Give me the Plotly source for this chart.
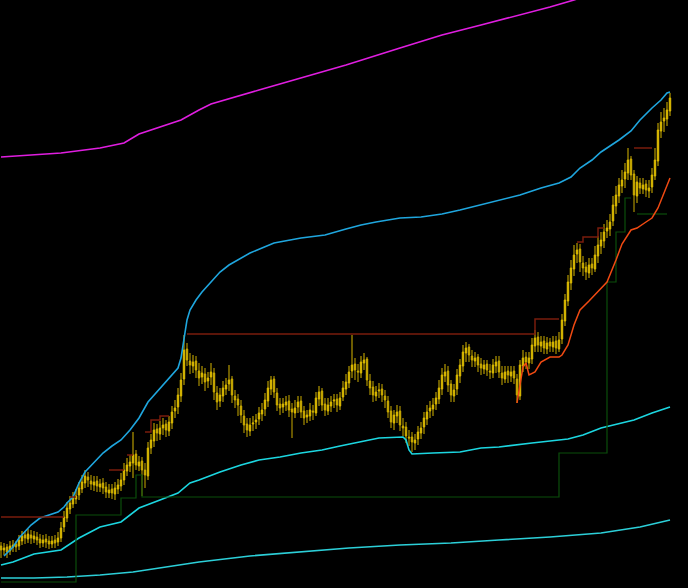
import plotly.graph_objects as go

# ---------------- price bars (value units) ----------------
bar_open = [42,38,41,37,41,44,42,47,53,49,
            53,49,51,49,45,49,47,44,48,46,
            50,61,70,79,84,89,93,99,105,111,
            107,103,107,101,105,101,95,99,94,99,
            102,108,117,122,125,134,122,127,118,112,
            140,147,159,154,160,164,157,165,177,181,
            192,209,239,227,222,227,217,211,214,207,
            211,215,195,187,192,199,204,209,192,189,
            182,172,164,157,164,166,169,174,179,187,
            199,209,195,184,181,183,187,179,175,181,
            187,177,171,172,177,175,189,197,184,177,
            182,187,189,182,191,199,205,217,224,217,
            215,225,229,207,201,192,197,199,192,187,
            177,165,172,177,162,161,151,151,145,149,
            155,161,169,177,179,184,189,199,212,217,
            204,192,199,212,222,235,241,232,227,231,
            224,219,224,217,215,222,227,215,209,217,
            212,217,209,192,222,231,225,229,242,251,
            242,247,239,246,241,247,239,249,267,287,
            305,319,334,339,325,321,315,324,319,332,
            342,347,357,359,367,382,392,402,409,415,
            429,414,392,405,399,404,397,401,412,427,
            457,467,469,477]
bar_high = [46,45,44,47,48,47,53,57,57,59,
            58,57,56,54,53,54,52,52,53,56,
            66,77,86,92,96,99,106,113,118,116,
            113,112,112,109,110,106,104,104,106,109,
            115,125,130,133,156,138,132,131,125,146,
            154,165,164,167,170,168,172,182,188,200,
            215,253,245,235,233,232,225,222,220,216,
            225,220,202,200,207,210,223,212,198,194,
            188,178,170,170,172,174,181,185,195,207,
            212,212,200,190,190,192,193,185,188,192,
            192,182,178,185,183,196,202,200,190,190,
            192,194,194,196,207,214,222,253,230,224,
            232,235,231,214,207,202,205,204,198,192,
            182,178,183,182,170,166,158,156,154,162,
            166,176,183,187,190,196,208,220,224,222,
            208,204,219,229,243,246,244,238,236,234,
            230,228,228,224,229,232,232,222,222,222,
            222,222,214,228,238,236,236,250,258,256,
            252,252,251,250,252,252,256,274,294,313,
            328,343,345,344,332,326,330,330,342,352,
            356,364,368,374,392,402,410,418,425,440,
            432,418,412,410,410,408,408,420,440,465,
            476,480,486,495]
bar_low = [30,33,30,33,36,36,38,43,44,45,
           44,45,43,40,41,40,39,40,40,42,
           46,56,66,74,80,84,88,95,100,101,
           98,97,96,96,94,90,90,89,88,94,
           97,103,112,116,110,118,117,92,100,108,
           134,141,147,148,153,151,152,159,170,174,
           186,203,222,214,215,210,202,204,197,200,
           203,188,178,181,186,193,197,185,180,172,
           165,155,151,152,157,159,163,167,172,181,
           193,190,177,173,175,177,171,150,170,175,
           170,163,165,167,168,172,182,177,172,173,
           176,180,176,178,187,193,200,210,208,206,
           210,218,202,193,186,187,190,186,180,170,
           160,158,165,157,152,145,142,136,138,143,
           149,154,163,170,172,178,184,193,206,196,
           186,186,193,205,216,226,226,221,221,216,
           213,214,212,209,210,215,210,203,205,205,
           206,204,185,188,216,219,219,224,236,236,
           236,234,234,236,236,234,236,244,262,282,
           298,312,325,316,312,308,310,313,316,325,
           334,340,350,352,362,374,385,395,400,408,
           408,376,385,394,394,391,390,395,408,422,
           450,456,462,472]
bar_close = [38,40,36,42,43,41,48,52,50,54,
             50,52,48,45,48,46,44,47,45,50,
             60,71,80,85,90,92,100,106,112,108,
             104,106,102,104,100,96,98,95,100,103,
             108,118,123,126,133,123,126,118,113,140,
             148,158,155,160,163,158,166,176,180,193,
             208,238,228,223,226,218,210,215,206,210,
             216,196,186,193,200,203,208,193,188,183,
             173,163,158,163,165,168,175,178,188,200,
             208,196,183,180,184,186,178,176,180,186,
             176,170,173,178,176,190,196,183,178,183,
             186,188,183,190,200,206,216,223,218,216,
             226,228,208,200,193,196,198,193,188,176,
             166,173,176,163,160,152,150,146,148,156,
             160,170,176,180,183,190,200,213,216,203,
             193,198,213,223,236,240,233,228,230,223,
             220,223,218,216,223,226,216,210,216,213,
             216,210,193,223,230,226,230,243,250,243,
             246,240,245,242,246,240,248,268,288,306,
             320,333,338,326,320,316,323,320,333,343,
             348,356,360,366,383,393,403,408,416,428,
             413,393,406,400,403,398,400,413,428,458,
             466,470,478,490]
bar_index = list(range(len(bar_close)))

# ---------------- indicator lines (bar index, value) ----------------
upper_idx = [1,4,6,8,10,13,16,19,21,22,24,26,28,31,34,37,40,43,46,49,53,56,59,60,61,62,63,65,67,70,
             73,76,80,83,87,91,100,108,115,120,125,133,140,147,153,160,166,173,180,186,190,193,197,
             200,203,206,210,213,217,220,222,223]
upper_val = [32,41,50,57,63,70,73,76,81,85,91,105,116,125,135,142,148,158,170,186,200,210,220,230,251,
             268,278,288,296,306,316,323,330,335,340,345,350,353,359,363,366,370,371,374,378,383,388,
             393,400,405,411,420,428,436,442,448,457,468,480,488,495,496]

outer_idx = [0,20,33,41,46,50,60,66,70,86,100,115,133,147,160,173,183,191,197]
outer_val = [431,435,440,445,454,458,468,478,484,498,510,523,540,553,563,573,581,588,594]

lower1_idx = [0,4,11,20,26,33,40,46,53,59,63,66,73,80,86,93,100,107,113,120,126,134,135,136,137,
              144,153,160,166,177,189,194,200,211,217,223]
lower1_val = [23,26,34,38,50,61,66,80,88,95,105,108,116,123,128,131,135,138,142,146,150,151,148,138,
              134,135,136,140,141,145,149,153,160,168,175,181]

lower2_idx = [0,11,22,33,44,55,66,83,100,116,133,150,166,183,200,213,223]
lower2_val = [10,10,11,13,16,21,26,32,36,40,43,45,48,51,55,61,68]

high_step_idx = [0,21,None,23,25,None,36,41,None,42,44,None,48,50,53,56,None,62,178,186,None,
                 192,194,199,201,None,211,217]
high_step_val = [71,71,None,91,91,None,118,118,None,133,133,None,156,168,172,172,None,254,269,269,None,
                 346,351,360,360,None,440,440]

low_step_idx = [0,25,40,45,47,186,202,205,208,210,None,212,222]
low_step_val = [6,73,90,113,91,135,306,356,390,390,None,374,374]

stop_idx = [172,174,175,176,178,180,183,186,187,189,191,193,196,199,202,205,207,210,212,215,217,219,221,223]
stop_val = [185,221,225,213,216,226,231,231,233,243,263,278,287,296,306,328,344,358,360,366,370,380,395,410]

fig = go.Figure()

fig.add_trace(go.Scatter(x=outer_idx, y=outer_val, mode="lines",
                         line=dict(color="#E01EE0", width=1.6), hoverinfo="skip"))
fig.add_trace(go.Scatter(x=lower2_idx, y=lower2_val, mode="lines",
                         line=dict(color="#2CCFD8", width=1.6), hoverinfo="skip"))
fig.add_trace(go.Scatter(x=lower1_idx, y=lower1_val, mode="lines",
                         line=dict(color="#1CD6E0", width=1.6), hoverinfo="skip"))
fig.add_trace(go.Scatter(x=upper_idx, y=upper_val, mode="lines",
                         line=dict(color="#1FA6DE", width=1.6), hoverinfo="skip"))
fig.add_trace(go.Scatter(x=low_step_idx, y=low_step_val, mode="lines",
                         line=dict(color="#0B4E0B", width=1.2, shape="hv"), connectgaps=False,
                         hoverinfo="skip"))
fig.add_trace(go.Scatter(x=high_step_idx, y=high_step_val, mode="lines",
                         line=dict(color="#7A1C0C", width=1.5, shape="hv"), connectgaps=False,
                         hoverinfo="skip"))
fig.add_trace(go.Scatter(x=stop_idx, y=stop_val, mode="lines",
                         line=dict(color="#F04A12", width=1.5), hoverinfo="skip"))

fig.add_trace(go.Candlestick(
    x=bar_index, open=bar_open, high=bar_high, low=bar_low, close=bar_close,
    increasing=dict(line=dict(color="#D9B800", width=1), fillcolor="#FFD90F"),
    decreasing=dict(line=dict(color="#C9AA00", width=1), fillcolor="#E8C40A"),
    whiskerwidth=0, hoverinfo="skip"))

fig.update_layout(
    width=688, height=588,
    margin=dict(l=0, r=0, t=0, b=0),
    paper_bgcolor="#000000", plot_bgcolor="#000000",
    showlegend=False,
    xaxis=dict(visible=False, range=[-0.333, 229], rangeslider=dict(visible=False)),
    yaxis=dict(visible=False, range=[0, 588]),
)

fig.write_html("out.html",
               config={"displayModeBar": False},
               post_script="document.body.style.margin='0';document.body.style.overflow='hidden';"
                           "document.body.style.background='#000';")
